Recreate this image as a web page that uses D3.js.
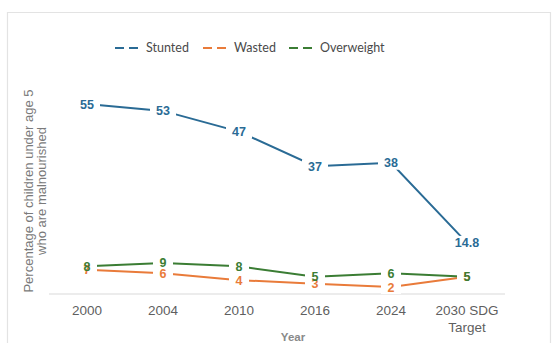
<!DOCTYPE html>
<html><head><meta charset="utf-8">
<script src="https://cdn.jsdelivr.net/npm/d3@7"></script>
<style>body{margin:0;background:#fff}svg{display:block}</style>
</head><body>
<svg id="c" width="554" height="343"></svg>
<script>
const categories = ["2000","2004","2010","2016","2024","2030 SDG Target"];
const stunted = [55,53,47,37,38,14.8];
const wasted = [7,6,4,3,2,5];
const overweight = [8,9,8,5,6,5];
const seriesNames = ["Stunted","Wasted","Overweight"];
const colors = ["#2a6b95","#e97b3a","#3b7d34"];
const yTitle = ["Percentage of children under age 5","who are malnourished"];
const xTitle = "Year";

const svg = d3.select("#c");
// frame
svg.append("path").attr("d","M7.5,343 V12.5 H550.5 V343").attr("fill","none").attr("stroke","#e3e3e3").attr("stroke-width",1.2);

const x = d3.scaleBand().domain(categories).range([49,505]);
const y = d3.scaleLinear().domain([0,55]).range([294,104]);
const cx = c => x(c) + x.bandwidth()/2;

// axis line
svg.append("line").attr("x1",49).attr("x2",505).attr("y1",y(0)).attr("y2",y(0)).attr("stroke","#d9d9d9").attr("stroke-width",1);

// x tick labels
const xt = svg.append("g").attr("font-family","Liberation Sans, Arial, sans-serif").attr("font-size",13.5).attr("fill","#5f5f5f").attr("text-anchor","middle");
categories.forEach(c => {
  const parts = c === "2030 SDG Target" ? ["2030 SDG","Target"] : [c];
  const t = xt.append("text").attr("x",cx(c)).attr("y",315);
  parts.forEach((p,i)=> t.append("tspan").attr("x",cx(c)).attr("dy", i===0?0:17).text(p));
});

// axis titles
svg.append("text").attr("x",293).attr("y",341).attr("text-anchor","middle").attr("font-family","Liberation Sans, Arial, sans-serif").attr("font-size",11.5).attr("font-weight","bold").attr("fill","#8a8a8a").text(xTitle);
const yt = svg.append("text").attr("transform","translate(33,191) rotate(-90)").attr("text-anchor","middle").attr("font-family","Liberation Sans, Arial, sans-serif").attr("font-size",13).attr("fill","#7a7a7a");
yTitle.forEach((l,i)=> yt.append("tspan").attr("x",0).attr("dy", i===0?0:12.5).text(l));

const data = [stunted, wasted, overweight];
const line = d3.line().x((d,i)=>cx(categories[i])).y(d=>y(d));
data.forEach((s,k)=>{
  svg.append("path").datum(s).attr("d",line).attr("fill","none").attr("stroke",colors[k]).attr("stroke-width",2);
});
// white boxes behind labels (mask lines), then label texts
const fmt = v => String(v);
const boxes = svg.append("g"), texts = svg.append("g");
data.forEach((s,k)=>{
  s.forEach((v,i)=>{
    const px = cx(categories[i]), py = y(v);
    const t = fmt(v);
    const w = t.length*6 + 14;
    boxes.append("rect").attr("x",px-w/2).attr("y",py-7).attr("width",w).attr("height",14).attr("fill","#fff");
    texts.append("text").attr("x",px).attr("y",py+4.5).attr("text-anchor","middle").attr("font-family","Liberation Sans, Arial, sans-serif").attr("font-size",12.5).attr("font-weight","bold").attr("fill",colors[k]).text(t);
  });
});

// legend
const legX = [115,203,289];
seriesNames.forEach((n,k)=>{
  const g = svg.append("g");
  g.append("line").attr("x1",legX[k]).attr("x2",legX[k]+28).attr("y1",48).attr("y2",48).attr("stroke",colors[k]).attr("stroke-width",2).attr("stroke-dasharray","9,5");
  g.append("text").attr("x",legX[k]+31).attr("y",52).attr("font-family","Lato, Open Sans, sans-serif").attr("font-size",12.5).attr("fill","#4a4a4a").text(n);
});
</script>
</body></html>
